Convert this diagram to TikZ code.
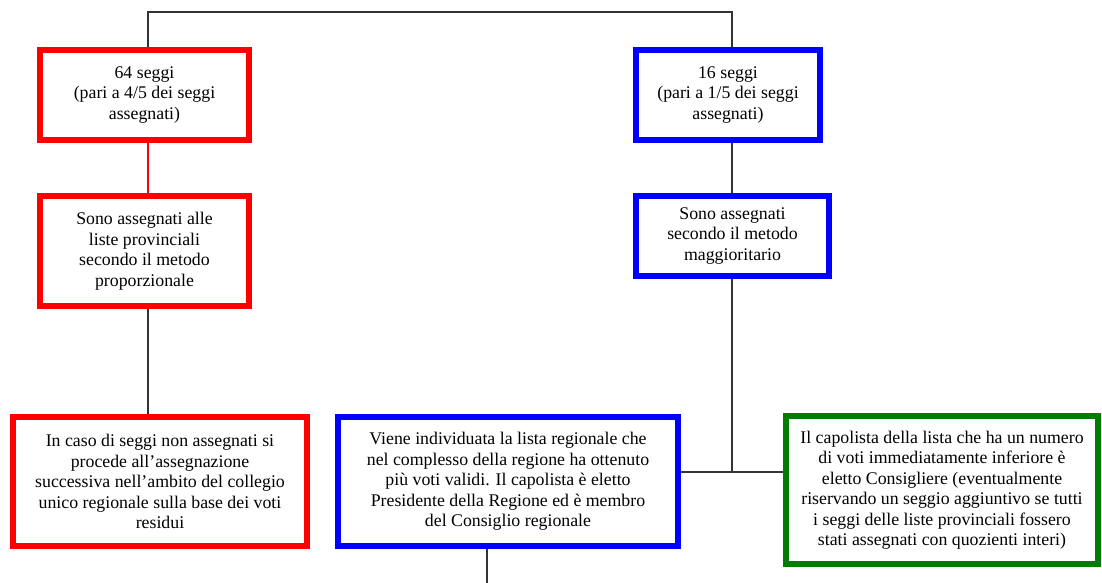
\documentclass[tikz,border=0pt]{standalone}
\usepackage{fontspec}
\setmainfont{Liberation Serif}
\usetikzlibrary{positioning, backgrounds, calc}
\definecolor{rossoforte}{RGB}{255,0,0}
\definecolor{bluforte}{RGB}{0,0,255}
\definecolor{verdescuro}{RGB}{0,125,0}

\begin{document}
\begin{tikzpicture}[x=1pt,y=1pt]
        \tikzset{
          riquadro/.style={
            draw,align=center,fill=white,
            line width=6pt,inner sep=0pt,
            font=\fontsize{17.8}{20.5}\selectfont,text=black,
          },
          riquadro rosso/.style={riquadro,draw=rossoforte},
          riquadro blu/.style={riquadro,draw=bluforte},
          riquadro verde/.style={riquadro,draw=verdescuro},
          linea/.style={
            line cap=rect,line width=1.2pt,draw=black!80,
          },
          linea rossa/.style={linea,draw=rossoforte},
          }
        \useasboundingbox (0,0) rectangle (1102,-582);
        \node[riquadro rosso, minimum width=209pt, minimum height=90pt] (seggiA) at (144.5,-95) {64 seggi\\
        (pari a 4/5 dei seggi\\
        assegnati)};
        \node[riquadro rosso, minimum width=209pt, minimum height=110pt] (metodoA) at (144.5,-251) {Sono assegnati alle\\
        liste provinciali\\
        secondo il metodo\\
        proporzionale};
        \node[riquadro rosso, minimum width=294pt, minimum height=129pt] (residui) at (160,-481.5) {In caso di seggi non assegnati si\\
        procede all’assegnazione\\
        successiva nell’ambito del collegio\\
        unico regionale sulla base dei voti\\
        residui};
        \node[riquadro blu, minimum width=184pt, minimum height=90pt] (seggiB) at (728,-95) {16 seggi\\
        (pari a 1/5 dei seggi\\
        assegnati)};
        \node[riquadro blu, minimum width=193pt, minimum height=80pt] (metodoB) at (732.5,-236) {Sono assegnati\\
        secondo il metodo\\
        maggioritario};
        \node[riquadro blu, minimum width=340pt, minimum height=129pt] (presidente) at (508,-481.5) {Viene individuata la lista regionale che\\
        nel complesso della regione ha ottenuto\\
        più voti validi. Il capolista è eletto\\
        Presidente della Regione ed è membro\\
        del Consiglio regionale};
        \node[riquadro verde, minimum width=312pt, minimum height=148pt] (consigliere) at (942,-490) {Il capolista della lista che ha un numero\\
        di voti immediatamente inferiore è\\
        eletto Consigliere (eventualmente\\
        riservando un seggio aggiuntivo se tutti\\
        i seggi delle liste provinciali fossero\\
        stati assegnati con quozienti interi)};

        \coordinate (cimaA) at (148,-12);
        \coordinate (cimaB) at (732,-12);
        \coordinate (snodo) at (732,-472);
        \coordinate (uscita) at (487,-582);

        \begin{scope}[on background layer]
            \draw[linea] (seggiA.north -| cimaA) -- (cimaA) -- (cimaB) -- (seggiB.north -| cimaB);
            \draw[linea rossa] (seggiA.south -| cimaA) -- (metodoA.north -| cimaA);
            \draw[linea] (metodoA.south -| cimaA) -- (residui.north -| cimaA);
            \draw[linea] (seggiB.south -| cimaB) -- (metodoB.north -| cimaB);
            \draw[linea] (metodoB.south -| snodo) -- (snodo);
            \draw[linea] (presidente.east |- snodo) -- (consigliere.west |- snodo);
            \draw[linea] (presidente.south -| uscita) -- (uscita);
        \end{scope}
      \end{tikzpicture}
\end{document}
